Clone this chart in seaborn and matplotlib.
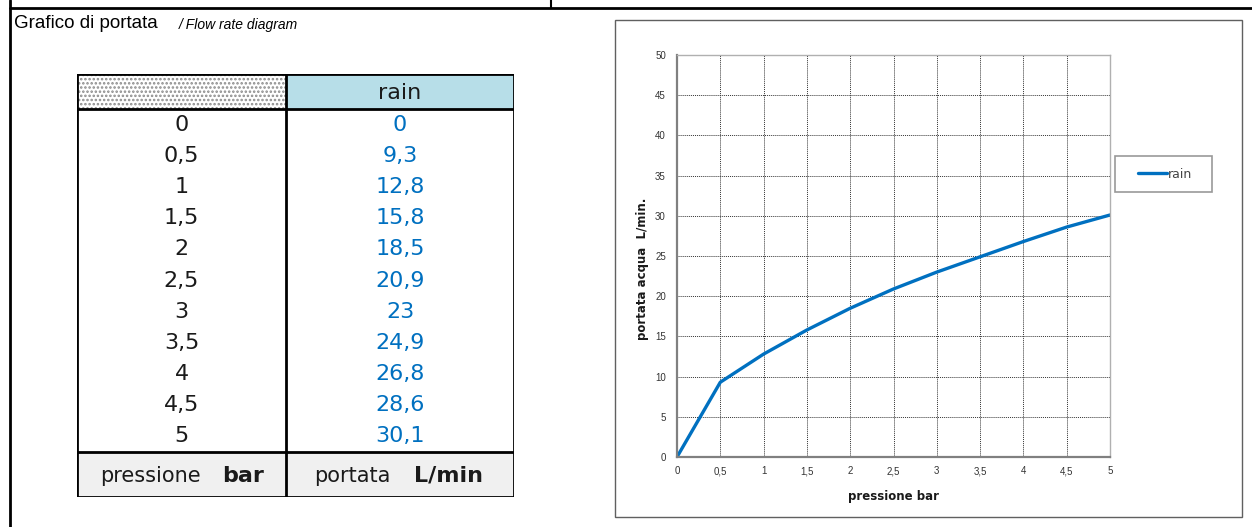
import numpy as np
import pandas as pd
import matplotlib.pyplot as plt
import matplotlib.patches as mpatches
from matplotlib.lines import Line2D
import seaborn as sns

pressione = [0, 0.5, 1, 1.5, 2, 2.5, 3, 3.5, 4, 4.5, 5]
portata = [0, 9.3, 12.8, 15.8, 18.5, 20.9, 23, 24.9, 26.8, 28.6, 30.1]
serie = "rain"
x_ticks = [0, 0.5, 1, 1.5, 2, 2.5, 3, 3.5, 4, 4.5, 5]
y_ticks = [0, 5, 10, 15, 20, 25, 30, 35, 40, 45, 50]


def it_num(v):
    return f"{v:g}".replace(".", ",")


W, H = 1252, 527
BLUE = "#0070c0"

sns.set_style("white")
plt.rcParams['font.family'] = ['DejaVu Sans']
plt.rcParams['hatch.linewidth'] = 1.2

fig = plt.figure(figsize=(W / 100, H / 100), dpi=100)


def fx(px):
    return px / W


def fy(py):
    return 1 - py / H


# page frame
fig.add_artist(Line2D([fx(10), 1.0], [fy(8), fy(8)], color="black", lw=2, transform=fig.transFigure))
fig.add_artist(Line2D([fx(10), fx(10)], [0, 1], color="black", lw=2, transform=fig.transFigure))
fig.add_artist(Line2D([fx(551), fx(551)], [fy(8), 1], color="black", lw=1.5, transform=fig.transFigure))

fig.text(fx(14), fy(24), "Grafico di portata", fontsize=13.5, va="center", color="black",
         family=["Liberation Sans"])
fig.text(fx(179), fy(25), "/ Flow rate diagram", fontsize=10, style="italic", va="center",
         color="black", family=["Liberation Sans"])

# ---- table ----
tl, tc, tr = 77, 286, 514
t_top, h_bot, f_top, t_bot = 74, 109, 452, 497
tax = fig.add_axes([fx(tl), fy(t_bot), fx(tr - tl), (t_bot - t_top) / H])
tax.set_xlim(tl, tr)
tax.set_ylim(t_bot, t_top)
tax.axis("off")

tax.add_patch(mpatches.Rectangle((tl, t_top), tc - tl, h_bot - t_top, facecolor="white",
                                 edgecolor="#8a8a8a", hatch="....", lw=0))
tax.add_patch(mpatches.Rectangle((tc, t_top), tr - tc, h_bot - t_top, facecolor="#b7dee8", lw=0))
tax.add_patch(mpatches.Rectangle((tl, f_top), tr - tl, t_bot - f_top, facecolor="#f0f0f0", lw=0))

lwb = 2.0
for yy in [t_top, h_bot, f_top, t_bot]:
    tax.plot([tl, tr], [yy, yy], color="black", lw=lwb, solid_capstyle="projecting")
for xx in [tl, tc, tr]:
    tax.plot([xx, xx], [t_top, t_bot], color="black", lw=lwb, solid_capstyle="projecting")

tax.text((tc + tr) / 2, (t_top + h_bot) / 2 + 1, serie, ha="center", va="center", fontsize=16,
         color="#1a1a1a")
row_h = (f_top - h_bot) / len(pressione)
for i, (p, q) in enumerate(zip(pressione, portata)):
    yy = h_bot + (i + 0.5) * row_h
    tax.text((tl + tc) / 2, yy, it_num(p), ha="center", va="center", fontsize=16, color="#1a1a1a")
    tax.text((tc + tr) / 2, yy, it_num(q), ha="center", va="center", fontsize=16, color=BLUE)

fy_mid = (f_top + t_bot) / 2 + 1
tax.text(100, fy_mid, "pressione", ha="left", va="center", fontsize=15, color="#1a1a1a")
tax.text(222, fy_mid, "bar", ha="left", va="center", fontsize=16, fontweight="bold", color="#1a1a1a")
tax.text(314, fy_mid, "portata", ha="left", va="center", fontsize=15, color="#1a1a1a")
tax.text(414, fy_mid, "L/min", ha="left", va="center", fontsize=16, fontweight="bold", color="#1a1a1a")

# ---- chart ----
fig.add_artist(mpatches.Rectangle((fx(615), fy(517)), fx(1242 - 615), (517 - 20) / H,
                                  fill=False, edgecolor="#606060", lw=1, transform=fig.transFigure))
# legend box
fig.add_artist(mpatches.Rectangle((fx(1115), fy(192)), fx(1212 - 1115), (192 - 156) / H,
                                  fill=False, edgecolor="#999999", lw=1.2, transform=fig.transFigure))

ax = fig.add_axes([fx(677), fy(457), fx(1110 - 677), (457 - 55) / H])
df = pd.DataFrame({"pressione": pressione, "portata": portata})
sns.lineplot(data=df, x="pressione", y="portata", ax=ax, color=BLUE, lw=2.4, label=serie)

ax.set_xlim(0, 5)
ax.set_ylim(0, 50)
ax.tick_params(axis="both", labelsize=7, labelcolor="#333333", direction="out",
               length=4, width=0.8, color="#808080", pad=4)
ax.tick_params(axis="x", pad=8.5)
ax.set_xticks(x_ticks)
ax.set_xticklabels([it_num(v) for v in x_ticks])
ax.set_yticks(y_ticks)
ax.set_yticklabels([it_num(v) for v in y_ticks])
ax.grid(True, color="#333333", linestyle=(0, (1, 1)), lw=0.7)
for t in ax.xaxis.get_major_ticks():
    t.label1.set_verticalalignment("baseline")
for lab in ax.get_xticklabels() + ax.get_yticklabels():
    lab.set_family(["Liberation Sans"])

for s in ["left", "bottom"]:
    ax.spines[s].set_color("#808080")
    ax.spines[s].set_linewidth(1.6)
for s in ["top", "right"]:
    ax.spines[s].set_color("#b0b0b0")
    ax.spines[s].set_linewidth(1.0)

ax.set_xlabel("pressione bar", fontsize=8.5, fontweight="bold", color="#1a1a1a")
ax.set_ylabel("portata acqua  L/min.", fontsize=8.5, fontweight="bold", color="#1a1a1a")
ax.xaxis.set_label_coords(0.5, -(490 - 457) / 402)
ax.yaxis.set_label_coords(-(677 - 649) / 433, (457 - 269) / 402)

leg = ax.legend(loc="center", bbox_to_anchor=(fx(1165), fy(174)), bbox_transform=fig.transFigure,
                frameon=False, fontsize=9, handlelength=2.3, handletextpad=0.1,
                borderpad=0, borderaxespad=0)
for t in leg.get_texts():
    t.set_color("#444444")

plt.savefig("out.png", dpi=100)
plt.close()
